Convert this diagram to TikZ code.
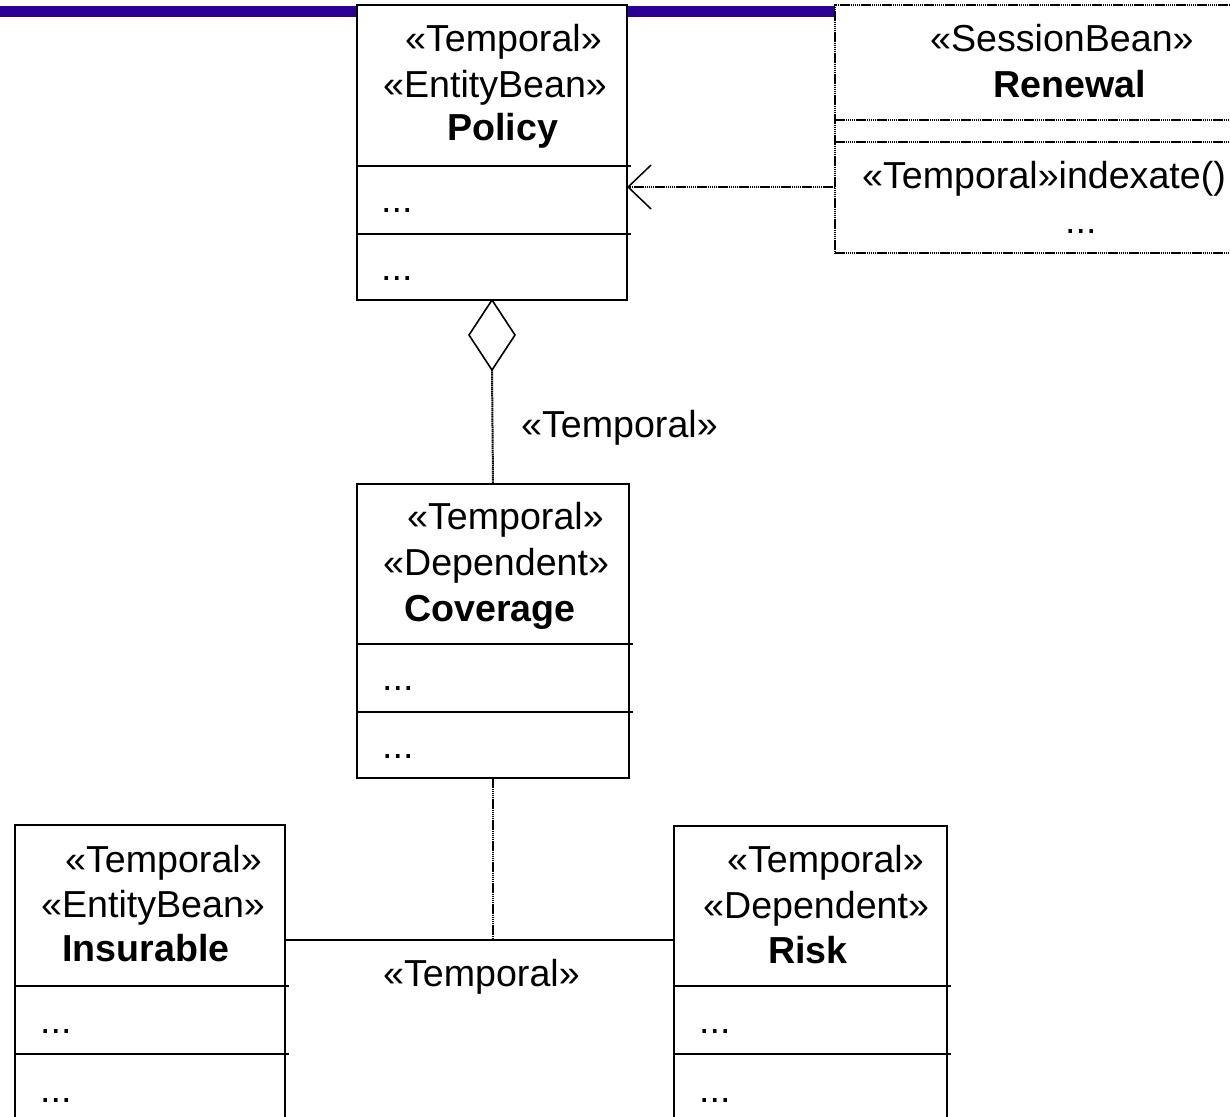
\documentclass[tikz,border=0pt]{standalone}
\usepackage{fontspec}
\setmainfont{Liberation Sans}
\usetikzlibrary{arrows.meta}
\definecolor{barblue}{RGB}{42,0,150}
\tikzset{
  cls/.style={draw, line width=2pt, fill=white, inner sep=0pt, outer sep=0pt, anchor=north west},
  dotbox/.style={draw, line width=2pt, dash pattern=on 1.5pt off 0.6pt, fill=white, inner sep=0pt, outer sep=0pt, anchor=north west},
  sep/.style={line width=2pt},
  dotsep/.style={line width=2pt, dash pattern=on 1.5pt off 0.6pt},
  dotline/.style={line width=2pt, dash pattern=on 1.5pt off 0.6pt},
  solidline/.style={line width=1.6pt},
  txt/.style={anchor=base west, inner sep=0pt, font=\fontsize{37.6}{44}\selectfont},
  btxt/.style={txt, font=\fontsize{37.6}{44}\selectfont\bfseries},
}
\begin{document}
\begin{tikzpicture}[x=1pt,y=-1pt]
\clip (0,0) rectangle (1230,1116);
\fill[white] (0,0) rectangle (1230,1116);
% top bar
\fill[barblue] (0,6) rectangle (835,17.5);

% Policy
\node[cls, minimum width=270pt, minimum height=295pt] (policy) at (357,5) {};
\draw[sep] ([yshift=-161pt]policy.north west) -- ++(274,0);
\draw[sep] ([yshift=-229pt]policy.north west) -- ++(274,0);
\node[txt] (p1) at (405,52) {«Temporal»};
\node[txt] (p2) at (383,97) {«EntityBean»};
\node[btxt] (p3) at (447,140) {Policy};
\node[txt] (p4) at (381,212) {...};
\node[txt] (p5) at (381,280) {...};

% Renewal
\node[dotbox, minimum width=420pt, minimum height=248pt] (renewal) at (835,5) {};
\draw[dotsep] ([yshift=-115pt]renewal.north west) -- ++(420,0);
\draw[dotsep] ([yshift=-137pt]renewal.north west) -- ++(420,0);
\node[txt] (r1) at (930,52) {«SessionBean»};
\node[btxt] (r2) at (993,97) {Renewal};
\node[txt] (r3) at (862,188) {«Temporal»indexate()};
\node[txt] (r4) at (1065,233) {...};

% dependency arrow
\draw[dotline, -{Straight Barb[length=23pt, width=44pt, line width=1.5pt]}]
  ([yshift=-182pt]renewal.north west) -- ([yshift=-182pt]policy.north east);

% Coverage
\node[cls, minimum width=272pt, minimum height=294pt] (coverage) at (357,484) {};
\draw[sep] ([yshift=-160pt]coverage.north west) -- ++(276,0);
\draw[sep] ([yshift=-228pt]coverage.north west) -- ++(276,0);
\node[txt] (c1) at (407,529) {«Temporal»};
\node[txt] (c2) at (383,575) {«Dependent»};
\node[btxt] (c3) at (404,621) {Coverage};
\node[txt] (c4) at (382,690) {...};
\node[txt] (c5) at (382,758) {...};

% aggregation
\draw[solidline, fill=white] (policy.south) -- ++(-23,35) coordinate (dl) -- ++(23,35) coordinate (dbot) -- ++(23,-35) -- cycle;
\draw[dotline] (dbot) -- (coverage.north);
\node[txt] (l1) at (521,437) {«Temporal»};

% Insurable
\node[cls, minimum width=270pt, minimum height=320pt] (insurable) at (15,825) {};
\draw[sep] ([yshift=-161pt]insurable.north west) -- ++(274,0);
\draw[sep] ([yshift=-229pt]insurable.north west) -- ++(274,0);
\node[txt] (i1) at (65,872) {«Temporal»};
\node[txt] (i2) at (41,917) {«EntityBean»};
\node[btxt] (i3) at (62,961) {Insurable};
\node[txt] (i4) at (40,1033) {...};
\node[txt] (i5) at (40,1102) {...};

% Risk
\node[cls, minimum width=273pt, minimum height=320pt] (risk) at (674,826) {};
\draw[sep] ([yshift=-160pt]risk.north west) -- ++(277,0);
\draw[sep] ([yshift=-228pt]risk.north west) -- ++(277,0);
\node[txt] (k1) at (727,872) {«Temporal»};
\node[txt] (k2) at (703,918) {«Dependent»};
\node[btxt] (k3) at (768,963) {Risk};
\node[txt] (k4) at (699,1033) {...};
\node[txt] (k5) at (699,1102) {...};

% association
\coordinate (junc) at (coverage.south |- 0,940);
\draw[dotline] (coverage.south) -- (junc);
\draw[solidline] (insurable.east |- junc) -- (risk.west |- junc);
\node[txt] (l2) at (383,986) {«Temporal»};
\end{tikzpicture}
\end{document}
